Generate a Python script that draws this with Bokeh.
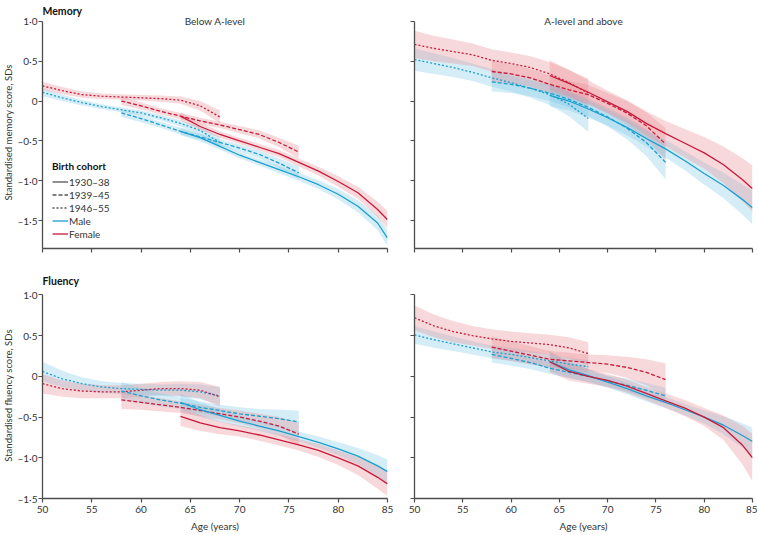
from bokeh.plotting import figure
from bokeh.layouts import gridplot
from bokeh.models import Range1d, FixedTicker, Label, Legend, LegendItem, CustomJSTickFormatter
from bokeh.embed import file_html
from bokeh.resources import INLINE

# ---------------- data ----------------
ages_46 = [50, 52, 54, 56, 58, 60, 62, 64, 66, 68]
ages_39 = [58, 60, 62, 64, 66, 68, 70, 72, 74, 76]
ages_30 = [64, 66, 68, 70, 72, 74, 76, 78, 80, 82, 84, 85]

x_ticks = [50, 55, 60, 65, 70, 75, 80, 85]
y_ticks = [1.0, 0.5, 0.0, -0.5, -1.0, -1.5]
y_tick_labels = ["1·0", "0·5", "0", "–0·5", "–1·0", "–1·5"]

cohort_labels = ["1930–38", "1939–45", "1946–55"]
sex_labels = ["Male", "Female"]
panel_titles = ["Below A-level", "A-level and above"]

# Memory, below A-level
mem_lo_m_46 = [0.11, 0.04, -0.02, -0.07, -0.11, -0.15, -0.21, -0.28, -0.37, -0.52]
mem_lo_m_46_ci = [0.05, 0.04, 0.035, 0.03, 0.03, 0.03, 0.035, 0.04, 0.05, 0.07]
mem_lo_f_46 = [0.19, 0.13, 0.08, 0.06, 0.05, 0.04, 0.03, 0.01, -0.06, -0.20]
mem_lo_f_46_ci = [0.05, 0.045, 0.04, 0.035, 0.035, 0.035, 0.04, 0.045, 0.06, 0.08]
mem_lo_m_39 = [-0.15, -0.22, -0.30, -0.38, -0.45, -0.52, -0.59, -0.67, -0.78, -0.90]
mem_lo_m_39_ci = [0.05, 0.045, 0.04, 0.04, 0.04, 0.04, 0.045, 0.05, 0.06, 0.08]
mem_lo_f_39 = [0.0, -0.06, -0.13, -0.19, -0.25, -0.30, -0.36, -0.42, -0.52, -0.64]
mem_lo_f_39_ci = [0.05, 0.045, 0.04, 0.04, 0.04, 0.04, 0.045, 0.05, 0.06, 0.08]
mem_lo_m_30 = [-0.38, -0.46, -0.57, -0.68, -0.77, -0.86, -0.95, -1.05, -1.17, -1.32, -1.53, -1.72]
mem_lo_m_30_ci = [0.05, 0.045, 0.04, 0.04, 0.04, 0.045, 0.05, 0.055, 0.065, 0.075, 0.09, 0.10]
mem_lo_f_30 = [-0.19, -0.32, -0.42, -0.50, -0.58, -0.66, -0.77, -0.88, -1.01, -1.15, -1.36, -1.49]
mem_lo_f_30_ci = [0.05, 0.045, 0.04, 0.04, 0.04, 0.045, 0.05, 0.055, 0.065, 0.075, 0.095, 0.11]

# Memory, A-level and above
mem_hi_m_46 = [0.52, 0.47, 0.42, 0.36, 0.29, 0.23, 0.16, 0.08, -0.04, -0.22]
mem_hi_m_46_ci = [0.14, 0.13, 0.12, 0.11, 0.11, 0.11, 0.12, 0.13, 0.15, 0.17]
mem_hi_f_46 = [0.71, 0.66, 0.62, 0.58, 0.51, 0.47, 0.42, 0.34, 0.23, 0.10]
mem_hi_f_46_ci = [0.17, 0.16, 0.15, 0.14, 0.14, 0.14, 0.14, 0.15, 0.16, 0.18]
mem_hi_m_39 = [0.24, 0.21, 0.16, 0.10, 0.02, -0.08, -0.20, -0.34, -0.52, -0.77]
mem_hi_m_39_ci = [0.12, 0.11, 0.10, 0.10, 0.10, 0.11, 0.12, 0.14, 0.17, 0.21]
mem_hi_f_39 = [0.37, 0.34, 0.29, 0.21, 0.14, 0.08, -0.03, -0.15, -0.31, -0.54]
mem_hi_f_39_ci = [0.13, 0.12, 0.11, 0.11, 0.11, 0.12, 0.13, 0.15, 0.17, 0.20]
mem_hi_m_30 = [0.07, 0.0, -0.10, -0.21, -0.33, -0.47, -0.60, -0.75, -0.91, -1.06, -1.24, -1.34]
mem_hi_m_30_ci = [0.14, 0.12, 0.11, 0.10, 0.10, 0.10, 0.11, 0.12, 0.14, 0.16, 0.19, 0.21]
mem_hi_f_30 = [0.32, 0.22, 0.11, -0.01, -0.13, -0.28, -0.41, -0.53, -0.65, -0.80, -0.99, -1.10]
mem_hi_f_30_ci = [0.19, 0.17, 0.15, 0.14, 0.14, 0.15, 0.16, 0.18, 0.20, 0.23, 0.27, 0.29]

# Fluency, below A-level
flu_lo_m_46 = [0.06, -0.03, -0.09, -0.13, -0.15, -0.16, -0.17, -0.17, -0.19, -0.24]
flu_lo_m_46_ci = [0.12, 0.10, 0.08, 0.07, 0.07, 0.07, 0.07, 0.08, 0.09, 0.11]
flu_lo_f_46 = [-0.09, -0.15, -0.18, -0.19, -0.19, -0.17, -0.15, -0.15, -0.17, -0.25]
flu_lo_f_46_ci = [0.12, 0.10, 0.09, 0.08, 0.08, 0.08, 0.08, 0.09, 0.10, 0.12]
flu_lo_m_39 = [-0.18, -0.24, -0.29, -0.33, -0.38, -0.42, -0.46, -0.49, -0.52, -0.56]
flu_lo_m_39_ci = [0.11, 0.09, 0.08, 0.07, 0.07, 0.07, 0.08, 0.09, 0.11, 0.14]
flu_lo_f_39 = [-0.29, -0.32, -0.35, -0.38, -0.42, -0.46, -0.50, -0.55, -0.61, -0.71]
flu_lo_f_39_ci = [0.11, 0.09, 0.08, 0.07, 0.07, 0.07, 0.08, 0.09, 0.11, 0.14]
flu_lo_m_30 = [-0.32, -0.41, -0.48, -0.55, -0.61, -0.67, -0.74, -0.81, -0.89, -0.98, -1.10, -1.17]
flu_lo_m_30_ci = [0.11, 0.09, 0.08, 0.07, 0.06, 0.06, 0.06, 0.07, 0.08, 0.10, 0.13, 0.15]
flu_lo_f_30 = [-0.49, -0.57, -0.63, -0.67, -0.72, -0.78, -0.84, -0.91, -1.00, -1.10, -1.24, -1.32]
flu_lo_f_30_ci = [0.12, 0.10, 0.08, 0.07, 0.07, 0.07, 0.07, 0.08, 0.09, 0.11, 0.14, 0.15]

# Fluency, A-level and above
flu_hi_m_46 = [0.51, 0.45, 0.40, 0.35, 0.30, 0.27, 0.23, 0.19, 0.15, 0.12]
flu_hi_m_46_ci = [0.11, 0.10, 0.09, 0.08, 0.08, 0.08, 0.08, 0.08, 0.08, 0.08]
flu_hi_f_46 = [0.72, 0.62, 0.55, 0.50, 0.46, 0.43, 0.41, 0.39, 0.35, 0.28]
flu_hi_f_46_ci = [0.15, 0.14, 0.13, 0.12, 0.12, 0.12, 0.12, 0.12, 0.13, 0.14]
flu_hi_m_39 = [0.27, 0.22, 0.17, 0.10, 0.05, 0.0, -0.06, -0.11, -0.17, -0.24]
flu_hi_m_39_ci = [0.10, 0.09, 0.08, 0.07, 0.07, 0.07, 0.07, 0.08, 0.09, 0.10]
flu_hi_f_39 = [0.36, 0.31, 0.26, 0.21, 0.19, 0.17, 0.15, 0.11, 0.05, -0.04]
flu_hi_f_39_ci = [0.13, 0.12, 0.11, 0.10, 0.10, 0.10, 0.11, 0.13, 0.16, 0.20]
flu_hi_m_30 = [0.18, 0.08, 0.01, -0.07, -0.15, -0.24, -0.32, -0.41, -0.50, -0.60, -0.73, -0.80]
flu_hi_m_30_ci = [0.12, 0.10, 0.08, 0.07, 0.07, 0.07, 0.07, 0.07, 0.08, 0.11, 0.15, 0.17]
flu_hi_f_30 = [0.18, 0.06, 0.0, -0.05, -0.12, -0.21, -0.30, -0.39, -0.50, -0.63, -0.85, -1.00]
flu_hi_f_30_ci = [0.13, 0.11, 0.09, 0.08, 0.08, 0.08, 0.09, 0.10, 0.11, 0.15, 0.24, 0.29]

# ---------------- style ----------------
FONT = "Lato"
TXT = "#333333"
AX = "#4d4d4d"
MALE = "#1a9fce"
FEMALE = "#c8193c"
MALE_BAND = "#7cc8e6"
FEMALE_BAND = "#e98a90"
DASH = {"30": "solid", "39": "4 2", "46": "2 2"}
AGES = {"30": ages_30, "39": ages_39, "46": ages_46}
NAN = float("nan")


def make_panel(curves, ymin, ymax, width, height, mb_left, mb_right, mb_top, mb_bottom,
               left_labels, bottom_labels, title=None, title_standoff=4,
               subtitle=None, ylabel=None):
    p = figure(width=width, height=height, output_backend="svg", toolbar_location=None,
               x_range=Range1d(50, 85), y_range=Range1d(ymin, ymax),
               min_border_left=mb_left, min_border_right=mb_right,
               min_border_top=mb_top, min_border_bottom=mb_bottom,
               title=title)
    p.outline_line_color = None
    p.grid.visible = False
    if title is not None:
        p.title.text_font = FONT
        p.title.text_font_size = "10.5px"
        p.title.text_font_style = "bold"
        p.title.text_color = "#111111"
        p.title.align = "left"
        p.title.standoff = title_standoff
    # bands first
    for sex, coh, mean, ci in curves:
        ages = AGES[coh]
        lo = [m - c for m, c in zip(mean, ci)]
        hi = [m + c for m, c in zip(mean, ci)]
        p.varea(x=ages, y1=lo, y2=hi,
                fill_color=MALE_BAND if sex == "m" else FEMALE_BAND, fill_alpha=0.32)
    for sex, coh, mean, ci in curves:
        p.line(AGES[coh], mean, line_color=MALE if sex == "m" else FEMALE,
               line_width=1.3, line_dash=DASH[coh])
    # axes
    p.xaxis.ticker = FixedTicker(ticks=x_ticks)
    p.yaxis.ticker = FixedTicker(ticks=y_ticks)
    p.xaxis.bounds = (50, 85)
    p.yaxis.bounds = (ymin, 1.0)
    for ax in (p.xaxis[0], p.yaxis[0]):
        ax.axis_line_color = AX
        ax.axis_line_width = 1.3
        ax.major_tick_line_color = AX
        ax.major_tick_line_width = 1.2
        ax.major_tick_out = 4
        ax.major_tick_in = 0
        ax.minor_tick_out = 0
        ax.minor_tick_in = 0
        ax.major_label_text_font = FONT
        ax.major_label_text_font_size = "10px"
        ax.major_label_text_color = TXT
        ax.axis_label_text_font = FONT
        ax.axis_label_text_font_size = "10px"
        ax.axis_label_text_font_style = "normal"
        ax.axis_label_text_color = TXT
    p.xaxis.major_label_standoff = 3
    p.xaxis.axis_label_standoff = 4
    p.yaxis.major_label_standoff = 1
    p.yaxis.axis_label_standoff = 0
    p.yaxis.axis_label_text_font_size = "9.5px"
    if left_labels:
        p.yaxis.major_label_overrides = {t: s for t, s in zip(y_ticks, y_tick_labels)}
    else:
        p.yaxis.formatter = CustomJSTickFormatter(code="return '';")
    if not bottom_labels:
        p.xaxis.formatter = CustomJSTickFormatter(code="return '';")
    else:
        p.xaxis.axis_label = "Age (years)"
    if ylabel:
        p.yaxis.axis_label = ylabel
    if subtitle:
        p.add_layout(Label(x=67.5, y=1.0, text=subtitle, text_align="center",
                           text_baseline="middle", text_font=FONT,
                           text_font_size="10px", text_color=TXT))
    return p


W_L, W_R = 400, 357
H_T, H_B = 256, 278

p1 = make_panel([("m", "46", mem_lo_m_46, mem_lo_m_46_ci), ("f", "46", mem_lo_f_46, mem_lo_f_46_ci),
                 ("m", "39", mem_lo_m_39, mem_lo_m_39_ci), ("f", "39", mem_lo_f_39, mem_lo_f_39_ci),
                 ("m", "30", mem_lo_m_30, mem_lo_m_30_ci), ("f", "30", mem_lo_f_30, mem_lo_f_30_ci)],
                -1.85, 1.06, W_L, H_T, 42, 13, 16, 8, True, False,
                title="Memory", title_standoff=0, subtitle=panel_titles[0],
                ylabel="Standardised memory score, SDs")
p2 = make_panel([("m", "46", mem_hi_m_46, mem_hi_m_46_ci), ("f", "46", mem_hi_f_46, mem_hi_f_46_ci),
                 ("m", "39", mem_hi_m_39, mem_hi_m_39_ci), ("f", "39", mem_hi_f_39, mem_hi_f_39_ci),
                 ("m", "30", mem_hi_m_30, mem_hi_m_30_ci), ("f", "30", mem_hi_f_30, mem_hi_f_30_ci)],
                -1.85, 1.06, W_R, H_T, 14, 5, 16, 8, False, False, subtitle=panel_titles[1])
p3 = make_panel([("m", "46", flu_lo_m_46, flu_lo_m_46_ci), ("f", "46", flu_lo_f_46, flu_lo_f_46_ci),
                 ("m", "39", flu_lo_m_39, flu_lo_m_39_ci), ("f", "39", flu_lo_f_39, flu_lo_f_39_ci),
                 ("m", "30", flu_lo_m_30, flu_lo_m_30_ci), ("f", "30", flu_lo_f_30, flu_lo_f_30_ci)],
                -1.5, 1.03, W_L, H_B, 42, 13, 36, 35, True, True,
                title="Fluency", title_standoff=12, ylabel="Standardised fluency score, SDs")
p4 = make_panel([("m", "46", flu_hi_m_46, flu_hi_m_46_ci), ("f", "46", flu_hi_f_46, flu_hi_f_46_ci),
                 ("m", "39", flu_hi_m_39, flu_hi_m_39_ci), ("f", "39", flu_hi_f_39, flu_hi_f_39_ci),
                 ("m", "30", flu_hi_m_30, flu_hi_m_30_ci), ("f", "30", flu_hi_f_30, flu_hi_f_30_ci)],
                -1.5, 1.03, W_R, H_B, 14, 5, 36, 35, False, True)

# legend in first panel (legend-only renderers hold no visible point)
GRAY = "#555555"
r_a = p1.line([NAN, NAN], [NAN, NAN], line_color=GRAY, line_width=1.3)
r_b = p1.line([NAN, NAN], [NAN, NAN], line_color=GRAY, line_width=1.3, line_dash=DASH["39"])
r_c = p1.line([NAN, NAN], [NAN, NAN], line_color=GRAY, line_width=1.3, line_dash=DASH["46"])
r_m = p1.line([NAN, NAN], [NAN, NAN], line_color=MALE, line_width=1.3)
r_f = p1.line([NAN, NAN], [NAN, NAN], line_color=FEMALE, line_width=1.3)
legend = Legend(items=[LegendItem(label=cohort_labels[0], renderers=[r_a]),
                       LegendItem(label=cohort_labels[1], renderers=[r_b]),
                       LegendItem(label=cohort_labels[2], renderers=[r_c]),
                       LegendItem(label=sex_labels[0], renderers=[r_m]),
                       LegendItem(label=sex_labels[1], renderers=[r_f])],
                location=(6, 4), title="Birth cohort",
                title_text_font=FONT, title_text_font_size="10px", title_text_font_style="bold",
                title_text_color="#111111", title_standoff=3,
                label_text_font=FONT, label_text_font_size="10px", label_text_color=TXT,
                glyph_width=16, glyph_height=13, label_height=13, label_standoff=1,
                spacing=0, padding=4, margin=0,
                background_fill_alpha=0, border_line_alpha=0)
p1.add_layout(legend)

grid = gridplot([[p1, p2], [p3, p4]], toolbar_location=None)
open("out.html", "w").write(file_html(grid, INLINE))
